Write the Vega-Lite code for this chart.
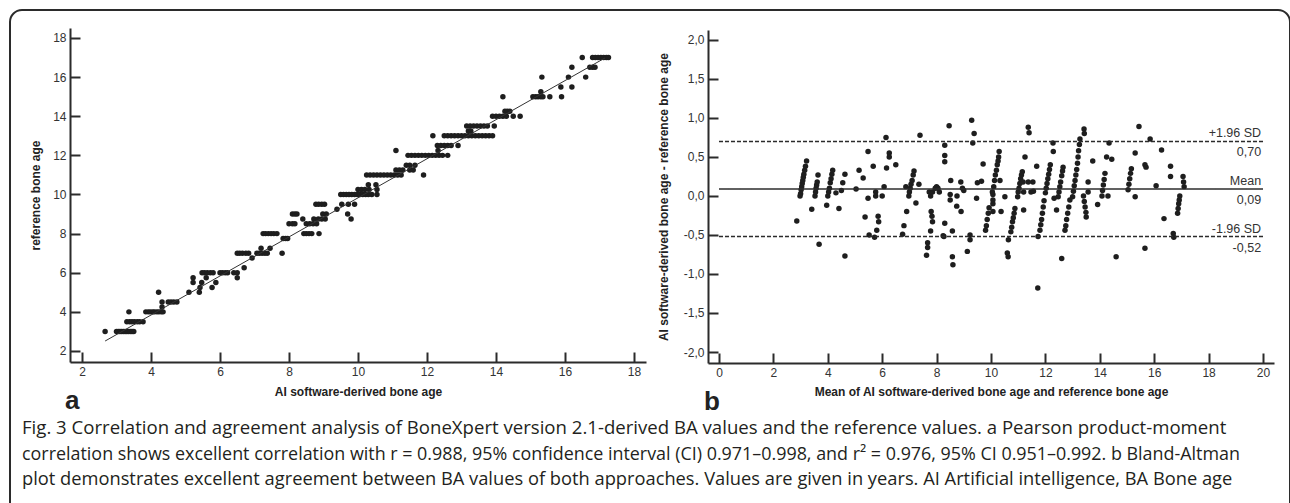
{
"$schema": "https://vega.github.io/schema/vega-lite/v6.json",
"width": 1280, "height": 520,
"autosize": {"type": "none"},
"padding": {"left": 10, "top": 10, "right": 0, "bottom": -27},
"background": "white",
"config": {
  "view": {"stroke": "#2b2b2b", "strokeWidth": 2, "cornerRadius": 12, "fill": "white"},
  "font": "Liberation Sans",
  "axis": {"domainColor": "#2b2b2b", "domainWidth": 2, "tickColor": "#2b2b2b", "tickWidth": 2, "tickSize": -10, "labelPadding": 14, "labelFont": "Liberation Sans", "labelFontSize": 12, "labelColor": "#333333", "titleFont": "Liberation Sans", "titleFontSize": 12, "titleFontWeight": "bold", "titleColor": "#222222", "grid": false, "labelOverlap": false, "labelFlush": false}
},
"datasets": {
  "a": [
{"x":2.67,"y":3},{"x":3.0,"y":3},{"x":3.05,"y":3},{"x":3.1,"y":3},{"x":3.15,"y":3},{"x":3.2,"y":3},{"x":3.25,"y":3},{"x":3.3,"y":3},{"x":3.35,"y":3},{"x":3.4,"y":3},{"x":3.45,"y":3},{"x":3.5,"y":3},
{"x":3.3,"y":3.5},{"x":3.38,"y":3.5},{"x":3.45,"y":3.5},{"x":3.52,"y":3.5},{"x":3.6,"y":3.5},{"x":3.67,"y":3.5},{"x":3.77,"y":3.5},
{"x":3.36,"y":4},{"x":3.85,"y":4},{"x":3.92,"y":4},{"x":3.98,"y":4},{"x":4.05,"y":4},{"x":4.1,"y":4},{"x":4.17,"y":4},{"x":4.23,"y":4},{"x":4.3,"y":4},{"x":4.35,"y":4},
{"x":4.32,"y":4.25},
{"x":4.32,"y":4.5},{"x":4.5,"y":4.5},{"x":4.58,"y":4.5},{"x":4.66,"y":4.5},{"x":4.75,"y":4.5},
{"x":4.22,"y":5},{"x":5.1,"y":5},{"x":5.4,"y":5},
{"x":5.42,"y":5.25},{"x":5.77,"y":5.25},
{"x":5.22,"y":5.5},{"x":5.47,"y":5.5},{"x":5.88,"y":5.5},
{"x":5.22,"y":5.75},{"x":5.6,"y":5.75},{"x":6.5,"y":5.75},
{"x":5.48,"y":6},{"x":5.55,"y":6},{"x":5.63,"y":6},{"x":5.72,"y":6},{"x":5.8,"y":6},{"x":6.0,"y":6},{"x":6.07,"y":6},{"x":6.15,"y":6},{"x":6.22,"y":6},{"x":6.4,"y":6},{"x":6.5,"y":6},
{"x":6.7,"y":6.25},{"x":6.93,"y":6.75},
{"x":6.5,"y":7},{"x":6.57,"y":7},{"x":6.65,"y":7},{"x":6.75,"y":7},{"x":6.83,"y":7},{"x":7.07,"y":7},{"x":7.14,"y":7},{"x":7.22,"y":7},{"x":7.3,"y":7},{"x":7.37,"y":7},{"x":7.8,"y":7},
{"x":7.19,"y":7.25},{"x":7.45,"y":7.25},
{"x":7.83,"y":7.75},{"x":7.9,"y":7.75},{"x":7.96,"y":7.75},
{"x":7.25,"y":8},{"x":7.32,"y":8},{"x":7.4,"y":8},{"x":7.48,"y":8},{"x":7.56,"y":8},{"x":7.65,"y":8},{"x":8.43,"y":8},{"x":8.5,"y":8},{"x":8.58,"y":8},{"x":8.66,"y":8},{"x":8.87,"y":8},
{"x":8.0,"y":8.5},{"x":8.1,"y":8.5},{"x":8.17,"y":8.5},{"x":8.5,"y":8.5},{"x":8.6,"y":8.5},{"x":8.7,"y":8.5},{"x":8.8,"y":8.5},
{"x":8.4,"y":8.75},{"x":8.72,"y":8.75},{"x":8.85,"y":8.75},{"x":8.95,"y":8.75},{"x":9.05,"y":8.75},{"x":9.8,"y":8.75},
{"x":8.1,"y":9},{"x":8.17,"y":9},{"x":8.23,"y":9},{"x":8.98,"y":9},{"x":9.08,"y":9},{"x":9.7,"y":9},
{"x":9.39,"y":9.25},
{"x":8.78,"y":9.5},{"x":8.86,"y":9.5},{"x":8.95,"y":9.5},{"x":9.03,"y":9.5},{"x":9.53,"y":9.5},{"x":9.72,"y":9.5},{"x":9.9,"y":9.5},
{"x":9.5,"y":10},{"x":9.58,"y":10},{"x":9.66,"y":10},{"x":9.74,"y":10},{"x":9.82,"y":10},{"x":9.9,"y":10},{"x":9.98,"y":10},{"x":10.06,"y":10},{"x":10.14,"y":10},{"x":10.22,"y":10},{"x":10.3,"y":10},{"x":10.4,"y":10},{"x":10.55,"y":10},
{"x":10.0,"y":10.25},{"x":10.1,"y":10.25},{"x":10.2,"y":10.25},{"x":10.32,"y":10.25},{"x":10.55,"y":10.25},
{"x":10.3,"y":10.5},{"x":10.52,"y":10.5},
{"x":10.25,"y":11},{"x":10.35,"y":11},{"x":10.45,"y":11},{"x":10.55,"y":11},{"x":10.65,"y":11},{"x":10.75,"y":11},{"x":10.85,"y":11},{"x":10.95,"y":11},{"x":11.05,"y":11},{"x":11.15,"y":11},{"x":11.25,"y":11},{"x":11.9,"y":11},
{"x":11.1,"y":11.25},{"x":11.2,"y":11.25},{"x":11.3,"y":11.25},{"x":11.5,"y":11.25},{"x":11.6,"y":11.25},
{"x":11.4,"y":11.5},{"x":11.5,"y":11.5},{"x":11.65,"y":11.5},
{"x":11.45,"y":12},{"x":11.55,"y":12},{"x":11.65,"y":12},{"x":11.75,"y":12},{"x":11.85,"y":12},{"x":11.95,"y":12},{"x":12.05,"y":12},{"x":12.15,"y":12},{"x":12.25,"y":12},{"x":12.35,"y":12},{"x":12.45,"y":12},{"x":12.6,"y":12},
{"x":11.1,"y":12.25},{"x":12.32,"y":12.25},
{"x":12.3,"y":12.5},{"x":12.4,"y":12.5},{"x":12.5,"y":12.5},{"x":12.6,"y":12.5},{"x":12.7,"y":12.5},{"x":12.9,"y":12.5},
{"x":12.17,"y":13},{"x":12.5,"y":13},{"x":12.6,"y":13},{"x":12.7,"y":13},{"x":12.8,"y":13},{"x":12.9,"y":13},{"x":13.0,"y":13},{"x":13.1,"y":13},{"x":13.2,"y":13},{"x":13.3,"y":13},{"x":13.4,"y":13},{"x":13.5,"y":13},{"x":13.6,"y":13},{"x":13.7,"y":13},{"x":13.8,"y":13},{"x":13.9,"y":13},
{"x":13.2,"y":13.25},{"x":13.27,"y":13.25},
{"x":13.15,"y":13.5},{"x":13.25,"y":13.5},{"x":13.35,"y":13.5},{"x":13.45,"y":13.5},{"x":13.55,"y":13.5},{"x":13.65,"y":13.5},{"x":13.75,"y":13.5},{"x":13.95,"y":13.5},
{"x":13.9,"y":14},{"x":14.0,"y":14},{"x":14.1,"y":14},{"x":14.2,"y":14},{"x":14.3,"y":14},{"x":14.5,"y":14},{"x":14.7,"y":14},
{"x":14.26,"y":14.25},{"x":14.33,"y":14.25},{"x":14.4,"y":14.25},
{"x":14.2,"y":15},{"x":15.07,"y":15},{"x":15.15,"y":15},{"x":15.22,"y":15},{"x":15.3,"y":15},{"x":15.36,"y":15},{"x":15.56,"y":15},{"x":15.9,"y":15},
{"x":15.3,"y":15.25},
{"x":15.88,"y":15.5},{"x":16.2,"y":15.5},
{"x":15.33,"y":16},{"x":16.1,"y":16},{"x":16.6,"y":16},
{"x":16.2,"y":16.5},{"x":16.72,"y":16.5},{"x":16.8,"y":16.5},{"x":16.87,"y":16.5},
{"x":16.5,"y":17},{"x":16.8,"y":17},{"x":16.88,"y":17},{"x":16.96,"y":17},{"x":17.04,"y":17},{"x":17.12,"y":17},{"x":17.2,"y":17},{"x":17.26,"y":17}
  ],
  "fit": [{"x": 2.67, "y": 2.51}, {"x": 17.16, "y": 16.98}],
  "b": [
{"m":2.86,"d":-0.32},{"m":2.98,"d":0.0},{"m":3.0,"d":0.03},{"m":3.02,"d":0.08},{"m":3.04,"d":0.12},{"m":3.06,"d":0.16},{"m":3.08,"d":0.2},{"m":3.1,"d":0.24},{"m":3.12,"d":0.28},{"m":3.15,"d":0.33},{"m":3.18,"d":0.38},{"m":3.22,"d":0.45},
{"m":3.41,"d":-0.17},
{"m":3.53,"d":0.0},{"m":3.55,"d":0.05},{"m":3.57,"d":0.1},{"m":3.59,"d":0.14},{"m":3.61,"d":0.18},{"m":3.64,"d":0.27},
{"m":3.68,"d":-0.62},{"m":3.96,"d":-0.12},
{"m":4.0,"d":0.0},{"m":4.03,"d":0.05},{"m":4.06,"d":0.1},{"m":4.09,"d":0.17},{"m":4.12,"d":0.22},{"m":4.15,"d":0.28},{"m":4.18,"d":0.33},
{"m":4.3,"d":0.04},{"m":4.41,"d":-0.16},{"m":4.5,"d":0.07},{"m":4.55,"d":0.17},{"m":4.63,"d":0.28},{"m":4.63,"d":-0.77},
{"m":5.04,"d":0.09},{"m":5.15,"d":0.33},{"m":5.3,"d":0.23},{"m":5.37,"d":-0.27},{"m":5.48,"d":0.57},{"m":5.48,"d":-0.03},{"m":5.52,"d":-0.5},{"m":5.67,"d":0.38},{"m":5.72,"d":-0.53},{"m":5.76,"d":0.05},{"m":5.76,"d":0.0},{"m":5.8,"d":-0.44},{"m":5.85,"d":-0.26},{"m":5.87,"d":-0.33},{"m":6.0,"d":0.0},{"m":6.07,"d":0.12},{"m":6.14,"d":0.75},{"m":6.16,"d":0.36},{"m":6.26,"d":0.55},{"m":6.26,"d":0.5},{"m":6.5,"d":0.4},
{"m":6.75,"d":-0.49},{"m":6.8,"d":-0.38},{"m":6.87,"d":0.12},{"m":6.9,"d":-0.2},
{"m":6.98,"d":0.0},{"m":7.0,"d":0.05},{"m":7.03,"d":0.1},{"m":7.06,"d":0.15},{"m":7.1,"d":0.2},{"m":7.14,"d":0.27},{"m":7.17,"d":0.32},
{"m":7.24,"d":-0.09},{"m":7.35,"d":0.15},{"m":7.39,"d":0.78},
{"m":7.63,"d":-0.76},{"m":7.67,"d":-0.6},{"m":7.67,"d":-0.66},{"m":7.73,"d":0.05},{"m":7.78,"d":-0.45},{"m":7.8,"d":-0.2},{"m":7.83,"d":-0.26},{"m":7.85,"d":-0.33},
{"m":7.78,"d":0.0},{"m":7.85,"d":0.05},{"m":7.95,"d":0.1},{"m":8.0,"d":0.12},{"m":8.05,"d":0.1},{"m":8.1,"d":0.05},
{"m":8.3,"d":0.44},{"m":8.3,"d":0.52},{"m":8.3,"d":0.65},{"m":8.46,"d":0.9},{"m":8.3,"d":-0.35},{"m":8.24,"d":-0.51},{"m":8.27,"d":-0.52},{"m":8.52,"d":0.2},{"m":8.58,"d":-0.45},{"m":8.58,"d":-0.78},{"m":8.6,"d":-0.88},{"m":8.5,"d":0.02},{"m":8.5,"d":-0.05},{"m":8.74,"d":-0.13},{"m":8.75,"d":0.0},{"m":8.89,"d":0.18},{"m":8.9,"d":-0.2},{"m":8.95,"d":0.1},{"m":9.0,"d":0.07},
{"m":9.13,"d":-0.71},{"m":9.23,"d":-0.5},{"m":9.23,"d":-0.56},{"m":9.29,"d":0.97},{"m":9.33,"d":0.68},{"m":9.38,"d":0.8},{"m":9.47,"d":-0.03},{"m":9.5,"d":0.17},{"m":9.65,"d":0.19},{"m":9.71,"d":0.41},
{"m":9.8,"d":-0.44},{"m":9.83,"d":-0.38},{"m":9.86,"d":-0.3},{"m":9.9,"d":-0.22},{"m":9.93,"d":-0.15},
{"m":10.07,"d":-0.2},{"m":10.07,"d":0.02},{"m":10.07,"d":-0.05},{"m":10.07,"d":-0.1},
{"m":10.05,"d":0.05},{"m":10.1,"d":0.12},{"m":10.13,"d":0.2},{"m":10.16,"d":0.27},{"m":10.2,"d":0.33},{"m":10.23,"d":0.4},{"m":10.26,"d":0.45},{"m":10.28,"d":0.5},{"m":10.3,"d":0.57},{"m":10.33,"d":0.2},
{"m":10.37,"d":-0.2},{"m":10.51,"d":-0.01},{"m":10.64,"d":-0.56},{"m":10.6,"d":-0.73},{"m":10.63,"d":-0.78},
{"m":10.73,"d":-0.46},{"m":10.76,"d":-0.4},{"m":10.79,"d":-0.33},{"m":10.82,"d":-0.28},{"m":10.85,"d":-0.22},{"m":10.88,"d":-0.16},
{"m":10.98,"d":-0.01},{"m":11.0,"d":0.05},{"m":11.03,"d":0.1},{"m":11.06,"d":0.16},{"m":11.09,"d":0.22},{"m":11.12,"d":0.27},{"m":11.15,"d":0.31},{"m":11.18,"d":0.18},{"m":11.2,"d":0.05},
{"m":11.2,"d":-0.18},{"m":11.25,"d":0.5},{"m":11.37,"d":0.88},{"m":11.4,"d":0.81},{"m":11.37,"d":0.18},{"m":11.47,"d":0.05},{"m":11.54,"d":0.18},{"m":11.56,"d":0.06},{"m":11.68,"d":0.38},{"m":11.73,"d":-0.52},{"m":11.72,"d":-1.18},
{"m":11.8,"d":-0.44},{"m":11.83,"d":-0.37},{"m":11.86,"d":-0.3},{"m":11.89,"d":-0.22},{"m":11.92,"d":-0.14},{"m":11.95,"d":-0.06},
{"m":12.0,"d":0.04},{"m":12.03,"d":0.1},{"m":12.06,"d":0.16},{"m":12.09,"d":0.22},{"m":12.12,"d":0.28},{"m":12.15,"d":0.34},{"m":12.18,"d":0.4},
{"m":12.28,"d":0.68},{"m":12.29,"d":0.57},{"m":12.32,"d":-0.03},{"m":12.41,"d":-0.18},{"m":12.6,"d":-0.8},
{"m":12.47,"d":-0.01},{"m":12.5,"d":0.05},{"m":12.53,"d":0.12},{"m":12.56,"d":0.18},{"m":12.6,"d":0.26},{"m":12.63,"d":0.32},{"m":12.65,"d":0.37},
{"m":12.72,"d":-0.44},{"m":12.75,"d":-0.38},{"m":12.78,"d":-0.3},{"m":12.82,"d":-0.22},{"m":12.86,"d":-0.14},{"m":12.9,"d":-0.05},
{"m":13.0,"d":-0.01},{"m":13.03,"d":0.06},{"m":13.06,"d":0.13},{"m":13.09,"d":0.2},{"m":13.12,"d":0.27},{"m":13.15,"d":0.34},{"m":13.18,"d":0.42},{"m":13.2,"d":0.5},{"m":13.22,"d":0.58},{"m":13.25,"d":0.66},{"m":13.27,"d":0.73},
{"m":13.42,"d":0.86},{"m":13.43,"d":0.8},
{"m":13.4,"d":0.0},{"m":13.43,"d":-0.07},{"m":13.46,"d":-0.14},{"m":13.49,"d":-0.21},{"m":13.5,"d":-0.27},
{"m":13.57,"d":0.18},{"m":13.57,"d":0.05},{"m":13.74,"d":0.45},{"m":13.92,"d":-0.11},
{"m":14.08,"d":0.0},{"m":14.1,"d":0.07},{"m":14.13,"d":0.14},{"m":14.16,"d":0.21},{"m":14.19,"d":0.29},
{"m":14.25,"d":0.5},{"m":14.34,"d":0.68},{"m":14.44,"d":0.47},{"m":14.3,"d":0.0},{"m":14.6,"d":-0.78},
{"m":15.04,"d":0.08},{"m":15.07,"d":0.15},{"m":15.1,"d":0.22},{"m":15.13,"d":0.29},{"m":15.16,"d":0.35},
{"m":15.3,"d":0.55},{"m":15.3,"d":-0.01},{"m":15.44,"d":0.89},{"m":15.66,"d":0.4},{"m":15.7,"d":0.37},{"m":15.66,"d":-0.67},{"m":15.85,"d":0.73},{"m":16.07,"d":0.13},{"m":16.27,"d":0.59},{"m":16.36,"d":-0.29},{"m":16.6,"d":0.38},{"m":16.6,"d":0.25},{"m":16.7,"d":-0.48},{"m":16.72,"d":-0.53},
{"m":16.86,"d":-0.22},{"m":16.88,"d":-0.16},{"m":16.9,"d":-0.1},{"m":16.92,"d":-0.05},{"m":16.94,"d":0.0},
{"m":17.06,"d":0.25},{"m":17.08,"d":0.18},{"m":17.1,"d":0.12}
  ],
  "blines": [
    {"kind": "upper", "v": 0.70, "top": "+1.96 SD", "bot": "0,70"},
    {"kind": "mean", "v": 0.09, "top": "Mean", "bot": "0,09"},
    {"kind": "lower", "v": -0.52, "top": "-1.96 SD", "bot": "-0,52"}
  ]
},
"layer": [
  {
    "layer": [
      {
        "data": {"name": "a"},
        "mark": {"type": "point", "filled": true, "size": 30, "color": "#1e1e1e", "opacity": 1},
        "encoding": {
          "x": {"field": "x", "type": "quantitative",
                "scale": {"domain": [1.652, 18.348], "range": [60, 636], "zero": false, "nice": false},
                "axis": {"orient": "bottom", "offset": -168, "values": [2,4,6,8,10,12,14,16,18], "format": "d", "title": "AI software-derived bone age", "titleY": 29, "titleBaseline": "middle"}},
          "y": {"field": "y", "type": "quantitative",
                "scale": {"domain": [1.4377, 18.511], "range": [352, 18], "zero": false, "nice": false},
                "axis": {"orient": "left", "offset": -60, "values": [2,4,6,8,10,12,14,16,18], "format": "d", "title": "reference bone age", "titleX": -35, "titleBaseline": "middle", "titleAngle": 270}}
        }
      },
      {
        "data": {"name": "fit"},
        "mark": {"type": "line", "color": "#333333", "strokeWidth": 1},
        "encoding": {
          "x": {"field": "x", "type": "quantitative"},
          "y": {"field": "y", "type": "quantitative"}
        }
      },
      {
        "data": {"values": [{"label": "a"}]},
        "mark": {"type": "text", "font": "Liberation Sans", "fontWeight": "bold", "fontSize": 26, "color": "#222222", "align": "left", "baseline": "alphabetic"},
        "encoding": {
          "x": {"datum": 1.507, "type": "quantitative"},
          "y": {"datum": -0.965, "type": "quantitative"},
          "text": {"field": "label", "type": "nominal"}
        }
      },
      {
        "data": {"values": [{}]},
        "mark": {"type": "text", "font": "Open Sans", "fontSize": 18.6, "color": "#231f20", "align": "left", "baseline": "alphabetic",
                 "text": "Fig. 3 Correlation and agreement analysis of BoneXpert version 2.1-derived BA values and the reference values. a Pearson product-moment"},
        "encoding": {
          "x": {"datum": 0.261, "type": "quantitative"},
          "y": {"datum": -2.243, "type": "quantitative"}
        }
      },
      {
        "data": {"values": [{}]},
        "mark": {"type": "text", "font": "Open Sans", "fontSize": 17.9, "color": "#231f20", "align": "left", "baseline": "alphabetic",
                 "text": "correlation shows excellent correlation with r = 0.988, 95% confidence interval (CI) 0.971–0.998, and r² = 0.976, 95% CI 0.951–0.992. b Bland-Altman"},
        "encoding": {
          "x": {"datum": 0.261, "type": "quantitative"},
          "y": {"datum": -3.547, "type": "quantitative"}
        }
      },
      {
        "data": {"values": [{}]},
        "mark": {"type": "text", "font": "Open Sans", "fontSize": 18.3, "color": "#231f20", "align": "left", "baseline": "alphabetic",
                 "text": "plot demonstrates excellent agreement between BA values of both approaches. Values are given in years. AI Artificial intelligence, BA Bone age"},
        "encoding": {
          "x": {"datum": 0.261, "type": "quantitative"},
          "y": {"datum": -4.850, "type": "quantitative"}
        }
      }
    ]
  },
  {
    "layer": [
      {
        "data": {"name": "b"},
        "mark": {"type": "point", "filled": true, "size": 30, "color": "#1e1e1e", "opacity": 1},
        "encoding": {
          "x": {"field": "m", "type": "quantitative",
                "scale": {"domain": [-0.404, 20.404], "range": [698, 1264], "zero": false, "nice": false},
                "axis": {"orient": "bottom", "offset": -167, "values": [0,2,4,6,8,10,12,14,16,18,20], "format": "d", "title": "Mean of AI software-derived bone age and reference bone age", "titleY": 28, "titleBaseline": "middle"}},
          "y": {"field": "d", "type": "quantitative",
                "scale": {"domain": [-2.141, 2.128], "range": [353, 20], "zero": false, "nice": false},
                "axis": {"orient": "left", "offset": -698, "values": [-2,-1.5,-1,-0.5,0,0.5,1,1.5,2], "labelExpr": "replace(replace(format(datum.value, '.1f'), '.', ','), '\u2212', '-')", "title": "AI software-derived bone age - reference bone age", "titleX": -45, "titleBaseline": "middle", "titleAngle": 270}}
        }
      },
      {
        "data": {"name": "blines"},
        "mark": {"type": "rule", "color": "#2b2b2b", "strokeWidth": 1.5},
        "encoding": {
          "x": {"datum": 0, "type": "quantitative"},
          "x2": {"datum": 20},
          "y": {"field": "v", "type": "quantitative"},
          "strokeDash": {"field": "kind", "type": "nominal", "scale": {"domain": ["upper", "mean", "lower"], "range": [[4, 2], [1, 0], [4, 2]]}, "legend": null}
        }
      },
      {
        "data": {"name": "blines"},
        "mark": {"type": "text", "font": "Liberation Sans", "fontSize": 12.5, "color": "#333333", "align": "right", "baseline": "alphabetic", "dy": -4},
        "encoding": {
          "x": {"datum": 19.93, "type": "quantitative"},
          "y": {"field": "v", "type": "quantitative"},
          "text": {"field": "top", "type": "nominal"}
        }
      },
      {
        "data": {"name": "blines"},
        "mark": {"type": "text", "font": "Liberation Sans", "fontSize": 12.5, "color": "#333333", "align": "right", "baseline": "alphabetic", "dy": 15},
        "encoding": {
          "x": {"datum": 19.93, "type": "quantitative"},
          "y": {"field": "v", "type": "quantitative"},
          "text": {"field": "bot", "type": "nominal"}
        }
      },
      {
        "data": {"values": [{"label": "b"}]},
        "mark": {"type": "text", "font": "Liberation Sans", "fontWeight": "bold", "fontSize": 26, "color": "#222222", "align": "left", "baseline": "alphabetic"},
        "encoding": {
          "x": {"datum": -0.551, "type": "quantitative"},
          "y": {"datum": -2.744, "type": "quantitative"},
          "text": {"field": "label", "type": "nominal"}
        }
      }
    ]
  }
],
"resolve": {"scale": {"x": "independent", "y": "independent"}, "axis": {"x": "independent", "y": "independent"}}
}
